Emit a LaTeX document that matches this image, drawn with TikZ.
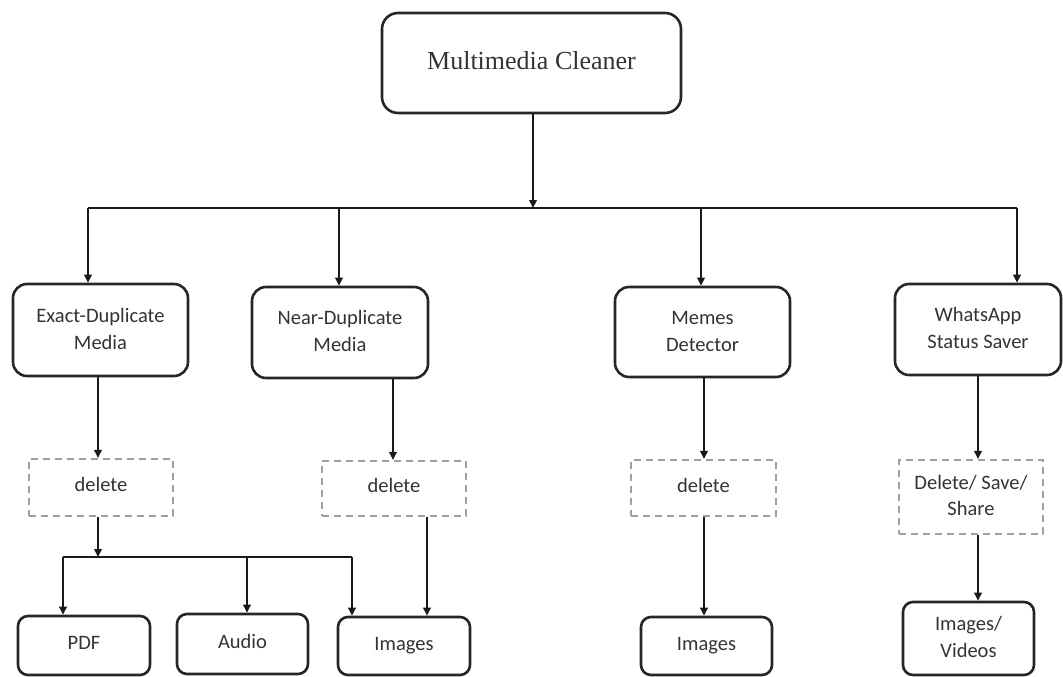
\documentclass[tikz,border=0pt]{standalone}
\usepackage{fontspec}
\setmainfont{Carlito}
\newfontfamily\titlefont{Liberation Serif}
\usetikzlibrary{arrows.meta}
\begin{document}
\begin{tikzpicture}[x=1pt,y=-1pt,
  box/.style={draw=black!85, line width=2.6pt, rounded corners=14pt, inner sep=0pt, align=center,
    font=\fontsize{20.5}{28}\selectfont, text=black!80},
  smallbox/.style={box, rounded corners=10pt},
  dbox/.style={draw=gray!75, line width=2.1pt, dash pattern=on 7pt off 5pt, inner sep=0pt, align=center,
    font=\fontsize{20.5}{27}\selectfont, text=black!80},
  arr/.style={line width=2.2pt, draw=black!90, -{Triangle[length=8pt,width=7.5pt]}},
  ln/.style={line width=2.2pt, draw=black!90}]
\useasboundingbox (0,0) rectangle (1063,677);

% level 1
\node[box, rounded corners=16pt, minimum width=299pt, minimum height=100pt,
  font=\titlefont\fontsize{26}{30}\selectfont] (top) at (531.5,63) {\raisebox{6pt}{Multimedia Cleaner}};

% level 2
\node[box, minimum width=175pt, minimum height=92pt] (exact) at (100.5,330) {\raisebox{4pt}{\begin{tabular}{@{}c@{}}Exact-Duplicate\\[-1pt]Media\end{tabular}}};
\node[box, minimum width=176pt, minimum height=91pt] (near) at (340,332.5) {\raisebox{3pt}{\begin{tabular}{@{}c@{}}Near-Duplicate\\[-1pt]Media\end{tabular}}};
\node[box, minimum width=175pt, minimum height=90pt] (memes) at (702.5,332) {\raisebox{3pt}{\begin{tabular}{@{}c@{}}Memes\\[-1pt]Detector\end{tabular}}};
\node[box, minimum width=166pt, minimum height=91pt] (whats) at (978,329.5) {\raisebox{4pt}{\begin{tabular}{@{}c@{}}WhatsApp\\[-1pt]Status Saver\end{tabular}}};

% level 3 (actions)
\node[dbox, minimum width=144pt, minimum height=57pt] (d1) at (101,487.5) {\raisebox{6pt}{delete}};
\node[dbox, minimum width=144pt, minimum height=55pt] (d2) at (394,488.5) {\raisebox{6pt}{delete}};
\node[dbox, minimum width=145pt, minimum height=56pt] (d3) at (703.5,488) {\raisebox{6pt}{delete}};
\node[dbox, minimum width=144pt, minimum height=74pt] (d4) at (971,497) {\raisebox{2pt}{\begin{tabular}{@{}c@{}}Delete/ Save/\\[-1pt]Share\end{tabular}}};

% level 4
\node[smallbox, minimum width=132pt, minimum height=59pt] (pdf) at (84,645.5) {\raisebox{5pt}{PDF}};
\node[smallbox, minimum width=131pt, minimum height=60pt] (audio) at (242.5,644) {\raisebox{5pt}{Audio}};
\node[smallbox, minimum width=132pt, minimum height=58pt] (img1) at (404,646) {\raisebox{5pt}{Images}};
\node[smallbox, minimum width=131pt, minimum height=58pt] (img2) at (706.5,646) {\raisebox{5pt}{Images}};
\node[smallbox, minimum width=131pt, minimum height=73pt] (img3) at (968.5,638.5) {\raisebox{-2pt}{\begin{tabular}{@{}c@{}}Images/\\[-1pt]Videos\end{tabular}}};

% bus coordinates
\coordinate (busC) at (533,208);
\coordinate (busL) at (88,208);
\coordinate (busB) at (339,208);
\coordinate (busM) at (701,208);
\coordinate (busR) at (1017,208);
\coordinate (subC) at (98,557);
\coordinate (subL) at (63,557);
\coordinate (subA) at (247,557);
\coordinate (subR) at (352,557);
\coordinate (nearX) at (393,0);
\coordinate (d2X) at (427,0);
\coordinate (mX) at (704,0);
\coordinate (wX) at (978,0);

% connectors
\draw[arr] (top.south -| busC) -- (busC);
\draw[ln] (busL) -- (busR);
\draw[arr] (busL) -- (busL |- exact.north);
\draw[arr] (busB) -- (busB |- near.north);
\draw[arr] (busM) -- (busM |- memes.north);
\draw[arr] (busR) -- (busR |- whats.north);

\draw[arr] (subC |- exact.south) -- (subC |- d1.north);
\draw[arr] (nearX |- near.south) -- (nearX |- d2.north);
\draw[arr] (mX |- memes.south) -- (mX |- d3.north);
\draw[arr] (wX |- whats.south) -- (wX |- d4.north);

\draw[arr] (subC |- d1.south) -- (subC);
\draw[ln] (subL) -- (subR);
\draw[arr] (subL) -- (subL |- pdf.north);
\draw[arr] (subA) -- (subA |- audio.north);
\draw[arr] (subR) -- (subR |- img1.north);
\draw[arr] (d2X |- d2.south) -- (d2X |- img1.north);
\draw[arr] (mX |- d3.south) -- (mX |- img2.north);
\draw[arr] (wX |- d4.south) -- (wX |- img3.north);
\end{tikzpicture}
\end{document}
